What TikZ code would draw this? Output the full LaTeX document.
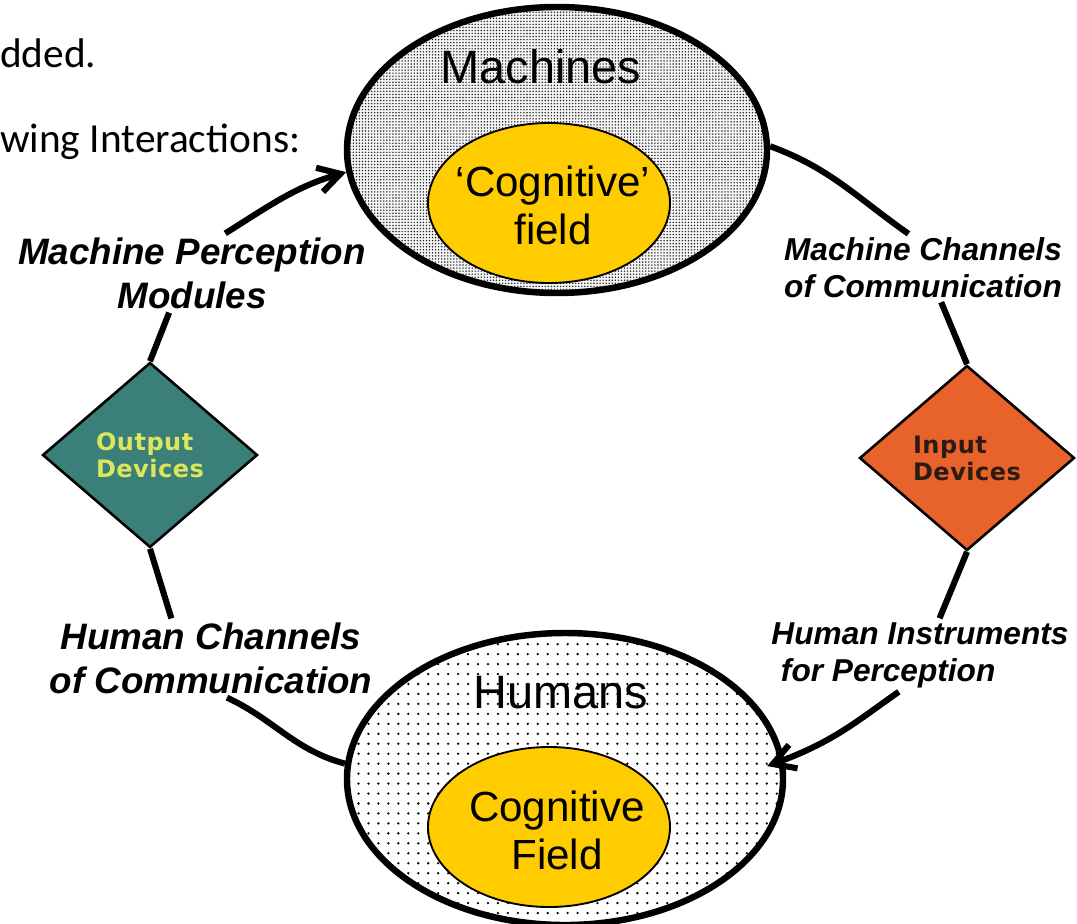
\documentclass[tikz,border=0pt]{standalone}
\usepackage{fontspec}
\setmainfont{Liberation Sans}
\newfontfamily\slidefont{Carlito}
\newfontfamily\devfont{DejaVu Sans}[LetterSpace=2]
\usepackage{xcolor}
\usepackage{tikz}
\usetikzlibrary{shapes.geometric, arrows.meta, patterns}

\definecolor{fieldyellow}{HTML}{FFCC00}
\definecolor{outteal}{HTML}{3B7F79}
\definecolor{inorange}{HTML}{E8622C}
\definecolor{outtext}{HTML}{DCE65C}
\definecolor{intext}{HTML}{2B1B12}

\pgfdeclarepatternformonly{machdots}{\pgfqpoint{-1pt}{-1pt}}{\pgfqpoint{1pt}{1pt}}{\pgfqpoint{2.6pt}{2.6pt}}{%
  \pgfpathcircle{\pgfqpoint{0pt}{0pt}}{0.7pt}\pgfusepath{fill}}
\pgfdeclarepatternformonly{humdots}{\pgfqpoint{-1.5pt}{-1.5pt}}{\pgfqpoint{1.5pt}{1.5pt}}{\pgfqpoint{8.5pt}{8.5pt}}{%
  \pgfpathcircle{\pgfqpoint{0pt}{0pt}}{1.1pt}\pgfusepath{fill}}

\begin{document}
\begin{tikzpicture}[x=0.03cm, y=-0.03cm]
  % Define styles
  \tikzstyle{world} = [ellipse, draw, line width=5.5pt, inner sep=0pt]
  \tikzstyle{field} = [ellipse, draw, line width=1.6pt, fill=fieldyellow, inner sep=0pt, minimum width=7.26cm, minimum height=4.8cm]
  \tikzstyle{device} = [diamond, draw, line width=2.2pt, inner sep=0pt, minimum width=6.45cm, minimum height=5.55cm, align=left, font=\devfont\bfseries\fontsize{20.5}{23}\selectfont]
  \tikzstyle{bigtext} = [font=\fontsize{40}{46}\selectfont]
  \tikzstyle{fieldtext} = [align=center, font=\fontsize{36}{41}\selectfont]
  \tikzstyle{lefttag} = [align=center, font=\bfseries\itshape\fontsize{31.4}{37.5}\selectfont]
  \tikzstyle{righttag} = [font=\bfseries\itshape\fontsize{27}{31.5}\selectfont]
  \tikzstyle{slide} = [anchor=base west, inner sep=0pt, font=\slidefont\fontsize{35.3}{42}\selectfont]
  \tikzstyle{flow} = [line width=5.2pt, >={Straight Barb[length=6.5mm, width=7.5mm]}]

  \useasboundingbox (0,0) rectangle (1077,923);

  % Slide text
  \node[slide] (added) at (0,67) {dded.};
  \node[slide] (interact) at (0,152) {wing Interactions:};

  % Worlds
  \node[world, preaction={fill=gray!8}, pattern=machdots, pattern color=black!85, minimum width=12.6cm, minimum height=8.58cm] (mach) at (557,150) {};
  \node[bigtext] (machname) at (541,67) {Machines};
  \node[field] (machfield) at (549,203) {};
  \node[fieldtext] (machcog) at (553,205) {`Cognitive'\\field};

  \node[world, preaction={fill=white}, pattern=humdots, minimum width=13.08cm, minimum height=8.76cm] (hum) at (565,779) {};
  \node[bigtext] (humname) at (561,693) {Humans};
  \node[field] (humfield) at (549,827) {};
  \node[fieldtext] (humcog) at (557,830) {Cognitive\\Field};

  % Devices
  \node[device, fill=outteal, text=outtext] (out) at (150,455) {Output\\Devices};
  \node[device, fill=inorange, text=intext] (inp) at (967,458) {Input\\Devices};

  % Tags
  \node[lefttag] (mpm) at (192,273) {Machine Perception\\Modules};
  \node[righttag, align=center] (mcc) at (923,268) {Machine Channels\\of Communication};
  \node[lefttag] (hcc) at (211,658) {Human Channels\\of Communication};
  \node[righttag, align=left] (hip) at (920,655) {Human Instruments\\\hspace{0.3em}for Perception};

  % Edges
  \draw[flow, ->] (mpm.50) to[out=32, in=196] (mach.186);
  \draw[flow] (mach.1) to[out=-20, in=145] (mcc.113);
  \draw[flow] (mcc.-62) -- (inp.north);
  \draw[flow] (inp.south) -- (hip.62);
  \draw[flow, ->, shorten >=-5.5mm] (hip.240) to[out=215, in=20] (hum.5);
  \draw[flow] (hcc.-68) to[out=-25, in=165] (hum.176);
  \draw[flow] (out.south) -- (hcc.135);
  \draw[flow] (mpm.240) -- (out.north);
\end{tikzpicture}
\end{document}
